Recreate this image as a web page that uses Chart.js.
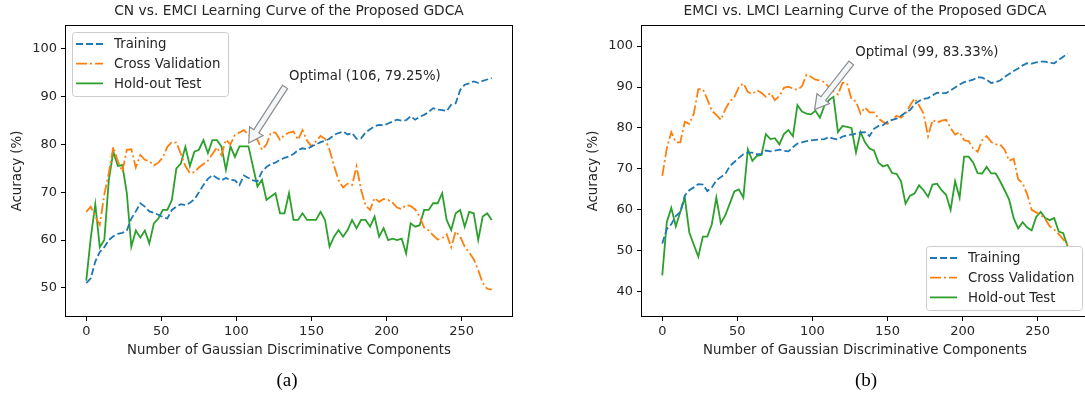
<!DOCTYPE html>
<html>
<head>
<meta charset="utf-8">
<script src="https://cdn.jsdelivr.net/npm/chart.js@4.4.0/dist/chart.umd.min.js"></script>
<style>
html, body { margin: 0; padding: 0; background: #fff; width: 1085px; height: 397px; overflow: hidden; position: relative; }
.panel { position: absolute; top: 0; width: 540px; height: 397px; }
.caption { position: absolute; top: 369px; width: 60px; margin-left: -30px; text-align: center;
           font-family: "Liberation Serif", "Times New Roman", serif; font-size: 19px; color: #000; }
</style>
</head>
<body>
<div class="panel" style="left:0px"><canvas id="chartA" width="540" height="397"></canvas></div>
<div class="panel" style="left:576px"><canvas id="chartB" width="540" height="397"></canvas></div>
<div class="caption" style="left:287px">(a)</div>
<div class="caption" style="left:866px">(b)</div>
<script>
// ================= data =================
const components = [0,3,6,9,12,15,18,21,24,27,30,33,36,39,42,45,48,51,54,57,60,63,66,69,72,75,78,81,84,87,
  90,93,96,99,102,105,108,111,114,117,120,123,126,129,132,135,138,141,144,147,150,153,156,159,162,165,168,171,174,177,
  180,183,186,189,192,195,198,201,204,207,210,213,216,219,222,225,228,231,234,237,240,243,246,249,252,255,258,261,264,267,270];

// (a) CN vs. EMCI
const trainA = [51,52,55.5,57.5,58.5,60,60.8,61.3,61.5,62, 64.5,66,67.7,67,66,65.7,65.3,64.8,64.5,66.3,
  67,67.5,67.3,67.8,68.5,70,71.5,72.8,73.6,73, 72.5,73,72.6,72.5,71.5,73.5,73,72.5,72.3,74.3,
  75.3,75.9,76.2,76.8,77.2,77.5,78,78.8,79.2,79, 79.6,80,80.5,80.8,81.2,82,82.4,82.7,82.1,82.4,
  81.2,81.3,82.5,83.2,83.8,84.1,84,84.4,84.8,85.2, 85,85.1,85.9,85.2,85.8,86.2,86.8,87.6,87.3,87.2,
  87,88.3,88.6,91.4,92.5,92.8,93.2,92.9,93.3,93.6, 93.9];
const cvA = [65.9,67,64.9,63.2,69.5,74,79.5,76.5,74.3,78.9, 79,75.2,77.8,76.8,76.5,75.6,76.2,77.3,79.5,80.5,
  80.4,78,75.5,74,74.2,75.2,75.9,76.6,78,79.4, 77.8,81,80,82,82.5,83,82,81.2,81,78.9,
  80,82.5,82.5,81,82,82.5,82.7,81,83,80.8, 79.6,80.7,81.8,81.2,78.9,75.5,72.5,71,71.8,71.5,
  75.4,70.5,67.2,66.3,68.8,68,68.6,68.4,67.8,66.8, 66.5,67.3,67.1,66.4,64.9,62.6,62,61,60.1,60.4,
  61.2,58.5,61.8,60.7,58.6,57.4,56,53.7,51,49.8, 49.6];
const testA = [51.5,60.5,67.5,58.5,60,72.5,78.5,75.5,75.7,69.8, 58.6,62,60.5,62,59.3,63.5,64.5,66.3,66.3,68.4,
  75,76,79.5,75.5,78.5,78.9,80.9,78.2,80.9,80.9, 79.6,74.7,79.6,77.4,79.6,79.6,79.6,75.4,71.2,72.6,
  68.4,69.1,69.8,65.6,65.6,69.8,64.2,64.2,65.6,64.2, 64.2,64.2,65.9,64.2,58.6,60.7,62.1,60.7,62.1,64.2,
  62.5,64.2,64.2,62.8,64.9,60.7,62.5,60,60.3,60, 60.3,57.2,63.5,62.8,63.1,66.3,66.3,67.7,67.7,69.8,
  64.2,62.1,65.6,66.3,62.8,65.9,65.6,60,64.9,65.6, 64.2];

// (b) EMCI vs. LMCI
const trainB = [51.8,55.3,56.5,58.5,59.5,63.5,64.8,65.5,66.3,66.2, 64.6,65.5,67.2,68,68.8,70.7,71.7,72.7,73.6,74,
  74,73.6,73.6,74.5,74.3,74.5,74.7,74.4,74.3,75.3, 76.2,76.5,76.8,77,77.1,77.2,77.3,77.8,77.4,77.2,
  77.9,78.2,78.4,78.6,78.9,79,78,79.8,80.5,80.7, 81.5,82,82.3,83,83.8,84.4,85.8,86.6,87.1,87.3,
  88,88.6,88.5,88.5,89.2,89.9,90.6,91.2,91.5,91.8, 92.4,92.3,91.8,91,91.2,91.6,92.5,93.2,93.9,94.5,
  95.3,95.8,95.7,96,96.2,96.2,95.9,95.8,96.6,97.4, 98.2];
const cvB = [68.3,75,79,76.5,76.5,81.5,81,83.5,89.5,89.5, 87,84.2,83.2,82,84.6,86.5,87.5,90,90.9,88.8,
  88.3,89.2,88.6,87.6,88.5,86.8,87.8,89.8,90.1,89.6, 89.3,90.2,93,92.5,91.8,91.6,91.2,90,89,88.2,
  91,91,87,86.5,83.5,85,83.8,83.8,82.3,81.5, 81,82,83,82.5,83.5,85.5,87.2,85.5,83.5,78,
  82,81.3,81.8,82,80,78.4,79,77,76.8,75, 74.2,77,78,76.6,76,76,74.7,72,72.5,67.5,
  66.5,63.8,60,59.4,58.8,57.8,56,55.2,54.1,52.8, 51.5];
const testB = [44,57,60.5,56,59.5,63,54.5,51.5,48.6,53.5, 53.5,56.5,63,56.7,58.7,61.6,64.5,65,63,74.8,
  72,73.2,73.4,78.5,77.3,77.5,76,78.5,79.5,78, 85.6,84,83.5,83.33,84.2,82.5,85.5,86.8,87.6,79,
  80.5,80.3,80,74,79,76.5,75,74.5,71.5,70.6, 71,69,68.8,67,61.5,63.5,64,66,64.8,63.2,
  66.2,66.4,64.8,63.7,60,67,63,73,73,71.6, 69,68.9,70.5,68.9,68.9,67,64.8,62.5,58,55.5,
  57,55.7,55,58.3,59.5,58,57.5,58,54.7,54.3, 51];

const xTicks = [0, 50, 100, 150, 200, 250];
const yTicksA = [50, 60, 70, 80, 90, 100];
const yTicksB = [40, 50, 60, 70, 80, 90, 100];
const seriesNames = ['Training', 'Cross Validation', 'Hold-out Test'];

// optimal points (x, y) and where the label sits (x, y) in data units
const optimalA = [106, 79.25, 135, 93.5];
const optimalB = [99, 83.33, 128.5, 97.6];

const FONT = '"DejaVu Sans", Arial, sans-serif';
const TXT = '#262626';

// ================= helpers =================
function pts(ys) {
    return components.map((x, i) => ({ x: x, y: ys[i] }));
}

function makeDatasets(train, cv, test) {
    return [
        { label: seriesNames[0], data: pts(train), borderColor: '#1f77b4', borderDash: [7, 3] },
        { label: seriesNames[1], data: pts(cv), borderColor: '#ff7f0e', borderDash: [11, 3, 2, 3] },
        { label: seriesNames[2], data: pts(test), borderColor: '#2ca02c', borderDash: [] }
    ].map(d => Object.assign(d, { borderWidth: 1.8, pointRadius: 0, tension: 0, fill: false }));
}

function drawArrow(ctx, x0, y0, x1, y1) {
    const dx = x1 - x0, dy = y1 - y0, len = Math.hypot(dx, dy);
    const ux = dx / len, uy = dy / len, nx = -uy, ny = ux;
    const bw = 3, hw = 8, hl = 14;
    const bx = x1 - ux * hl, by = y1 - uy * hl;
    ctx.beginPath();
    ctx.moveTo(x0 + nx * bw, y0 + ny * bw);
    ctx.lineTo(bx + nx * bw, by + ny * bw);
    ctx.lineTo(bx + nx * hw, by + ny * hw);
    ctx.lineTo(x1, y1);
    ctx.lineTo(bx - nx * hw, by - ny * hw);
    ctx.lineTo(bx - nx * bw, by - ny * bw);
    ctx.lineTo(x0 - nx * bw, y0 - ny * bw);
    ctx.closePath();
    ctx.fillStyle = '#f3f6f8';
    ctx.fill();
    ctx.strokeStyle = '#8c8c8c';
    ctx.lineWidth = 1.2;
    ctx.stroke();
}

function roundRect(ctx, x, y, w, h, r) {
    ctx.beginPath();
    ctx.moveTo(x + r, y);
    ctx.lineTo(x + w - r, y);
    ctx.quadraticCurveTo(x + w, y, x + w, y + r);
    ctx.lineTo(x + w, y + h - r);
    ctx.quadraticCurveTo(x + w, y + h, x + w - r, y + h);
    ctx.lineTo(x + r, y + h);
    ctx.quadraticCurveTo(x, y + h, x, y + h - r);
    ctx.lineTo(x, y + r);
    ctx.quadraticCurveTo(x, y, x + r, y);
    ctx.closePath();
}

// title, frame, annotation arrow and legend (matplotlib look)
const decorations = {
    id: 'decorations',
    afterDatasetsDraw(chart, args, opts) {
        const ctx = chart.ctx;
        const xs = chart.scales.x, ys = chart.scales.y;
        const px = xs.getPixelForValue(opts.optimal[0]);
        const py = ys.getPixelForValue(opts.optimal[1]);
        const tx = xs.getPixelForValue(opts.optimal[2]);
        const ty = ys.getPixelForValue(opts.optimal[3]);
        const sx = tx - 4, sy = ty + 7;
        const d = Math.hypot(sx - px, sy - py);
        const ex = px + (sx - px) / d * 6, ey = py + (sy - py) / d * 6;
        ctx.save();
        drawArrow(ctx, sx, sy, ex, ey);
        ctx.fillStyle = TXT;
        ctx.font = '13.3px ' + FONT;
        ctx.textAlign = 'left';
        ctx.textBaseline = 'alphabetic';
        ctx.fillText('Optimal (' + opts.optimal[0] + ', ' + opts.optimal[1].toFixed(2) + '%)', tx, ty);
        ctx.restore();
    },
    afterDraw(chart, args, opts) {
        const ctx = chart.ctx;
        const a = chart.chartArea;
        ctx.save();
        // frame
        ctx.strokeStyle = '#000';
        ctx.lineWidth = 1;
        ctx.strokeRect(Math.round(a.left) - 0.5, Math.round(a.top) - 0.5,
                       Math.round(a.right - a.left) + 1, Math.round(a.bottom - a.top) + 1);
        // title
        ctx.fillStyle = TXT;
        ctx.font = '13.8px ' + FONT;
        ctx.textAlign = 'center';
        ctx.textBaseline = 'middle';
        ctx.fillText(opts.title, (a.left + a.right) / 2, 11);
        // legend
        const w = 156, h = 64;
        const lx = opts.legendAt === 'upper left' ? a.left + 6 : a.right - 6 - w;
        const ly = opts.legendAt === 'upper left' ? a.top + 6 : a.bottom - 6 - h;
        roundRect(ctx, lx + 0.5, ly + 0.5, w, h, 3);
        ctx.fillStyle = 'rgba(255,255,255,0.8)';
        ctx.fill();
        ctx.strokeStyle = '#cccccc';
        ctx.lineWidth = 1;
        ctx.stroke();
        ctx.font = '13.3px ' + FONT;
        ctx.textAlign = 'left';
        chart.data.datasets.forEach((ds, i) => {
            const cy = ly + 12 + i * 19.7;
            ctx.beginPath();
            ctx.setLineDash(ds.borderDash);
            ctx.strokeStyle = ds.borderColor;
            ctx.lineWidth = ds.borderWidth;
            ctx.moveTo(lx + 4, cy);
            ctx.lineTo(lx + 31, cy);
            ctx.stroke();
            ctx.setLineDash([]);
            ctx.fillStyle = TXT;
            ctx.fillText(ds.label, lx + 42, cy + 1);
        });
        ctx.restore();
    }
};

function makeChart(id, datasets, yMin, yMax, yTicks, title, optimal, legendAt) {
    return new Chart(document.getElementById(id), {
        type: 'line',
        data: { datasets: datasets },
        options: {
            responsive: false,
            animation: false,
            layout: { padding: { left: 0, right: 28, top: 26, bottom: 35 } },
            scales: {
                x: {
                    type: 'linear',
                    min: -13.5,
                    max: 283.5,
                    afterBuildTicks: s => { s.ticks = xTicks.map(v => ({ value: v })); },
                    afterFit: s => { s.height = 46; },
                    grid: { drawOnChartArea: false, drawTicks: true, tickLength: 5, color: '#000' },
                    border: { display: false },
                    ticks: { font: { family: FONT, size: 13 }, color: TXT, padding: 3, maxRotation: 0 },
                    title: { display: true, text: 'Number of Gaussian Discriminative Components',
                             font: { family: FONT, size: 13.3 }, color: TXT, padding: { top: 0, bottom: 3 } }
                },
                y: {
                    type: 'linear',
                    min: yMin,
                    max: yMax,
                    afterBuildTicks: s => { s.ticks = yTicks.map(v => ({ value: v })); },
                    afterFit: s => { s.width = 66; },
                    grid: { drawOnChartArea: false, drawTicks: true, tickLength: 5, color: '#000' },
                    border: { display: false },
                    ticks: { font: { family: FONT, size: 13 }, color: TXT, padding: 4 },
                    title: { display: true, text: 'Acuracy (%)',
                             font: { family: FONT, size: 13.3 }, color: TXT, padding: { top: 10, bottom: 0 } }
                }
            },
            plugins: {
                legend: { display: false },
                tooltip: { enabled: false },
                decorations: { title: title, optimal: optimal, legendAt: legendAt }
            }
        },
        plugins: [decorations]
    });
}

makeChart('chartA', makeDatasets(trainA, cvA, testA), 44.1, 104.8, yTicksA,
          'CN vs. EMCI Learning Curve of the Proposed GDCA', optimalA, 'upper left');
makeChart('chartB', makeDatasets(trainB, cvB, testB), 34.1, 104.9, yTicksB,
          'EMCI vs. LMCI Learning Curve of the Proposed GDCA', optimalB, 'lower right');
</script>
</body>
</html>
